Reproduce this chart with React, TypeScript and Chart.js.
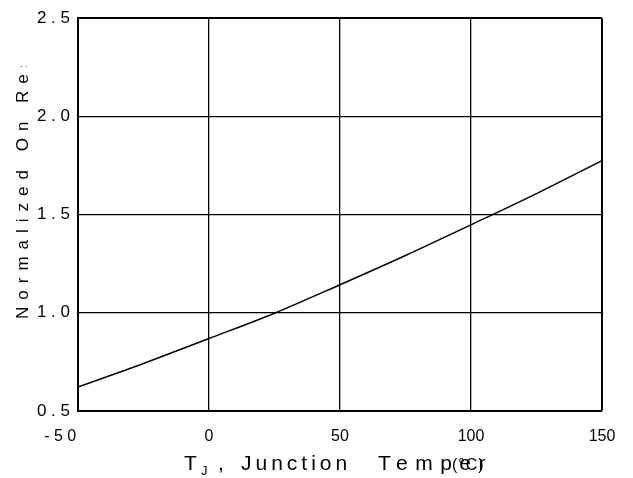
import { useEffect, useRef } from "react";
import { Chart, registerables } from "chart.js";

Chart.register(...registerables);

// Data
const temperatures = [-50, -25, 0, 25, 50, 75, 100, 125, 150];
const onResistance = [0.622, 0.742, 0.869, 0.998, 1.143, 1.292, 1.448, 1.607, 1.775];

const xTickValues = [-50, 0, 50, 100, 150];
const xTickLabels = ["- 5 0        ", "0", "50", "100", "150"];
const yTickValues = [0.5, 1.0, 1.5, 2.0, 2.5];
const yTickLabels = ["0 . 5", "1 . 0", "1 . 5", "2 . 0", "2 . 5"];

const yTitle = "Normalized On Resistance";
const xTitleMain = "T";
const xTitleSub = "J";
const xTitleComma = ",";
const xTitleWord1 = "Junction";
const xTitleWord2 = "Temper";
const xTitleUnit = "(°C)";

const FONT = '"Liberation Sans", Arial, Helvetica, sans-serif';

const titlesPlugin = {
  id: "customTitles",
  afterDraw(chart: any) {
    const ctx = chart.ctx as CanvasRenderingContext2D;
    // Y axis title (rotated, clipped at the top like the reference)
    ctx.save();
    ctx.beginPath();
    ctx.rect(0, 66, 70, 412);
    ctx.clip();
    ctx.translate(28, 319);
    ctx.rotate(-Math.PI / 2);
    ctx.fillStyle = "#000";
    ctx.font = `17px ${FONT}`;
    (ctx as any).letterSpacing = "7px";
    ctx.textAlign = "left";
    ctx.textBaseline = "alphabetic";
    ctx.fillText(yTitle, 0, 0);
    ctx.restore();

    // X axis title
    ctx.save();
    ctx.fillStyle = "#000";
    ctx.textAlign = "left";
    ctx.textBaseline = "alphabetic";
    ctx.font = `21px ${FONT}`;
    (ctx as any).letterSpacing = "0px";
    ctx.fillText(xTitleMain, 184, 470);
    ctx.font = `13px ${FONT}`;
    ctx.fillText(xTitleSub, 201, 475);
    ctx.font = `21px ${FONT}`;
    ctx.fillText(xTitleComma, 218, 470);
    (ctx as any).letterSpacing = "4px";
    ctx.fillText(xTitleWord1, 241, 470);
    (ctx as any).letterSpacing = "7.5px";
    ctx.fillText(xTitleWord2, 378, 470);
    ctx.font = `16px ${FONT}`;
    (ctx as any).letterSpacing = "1px";
    ctx.fillText(xTitleUnit, 452, 470);
    ctx.restore();
  },
};

function labelFor(values: number[], labels: string[], v: number) {
  for (let i = 0; i < values.length; i++) {
    if (Math.abs(values[i] - v) < 1e-6) return labels[i];
  }
  return "";
}

export default function App() {
  const canvasRef = useRef<HTMLCanvasElement | null>(null);

  useEffect(() => {
    if (!canvasRef.current) return;
    const chart = new Chart(canvasRef.current, {
      type: "line",
      data: {
        datasets: [
          {
            data: temperatures.map((t, i) => ({ x: t, y: onResistance[i] })),
            borderColor: "#000",
            borderWidth: 1.5,
            pointRadius: 0,
            fill: false,
            cubicInterpolationMode: "monotone",
          },
        ],
      },
      options: {
        animation: false,
        responsive: false,
        layout: { padding: { top: 14, right: 31, left: 0, bottom: 0 } },
        plugins: {
          legend: { display: false },
          tooltip: { enabled: false },
        },
        scales: {
          x: {
            type: "linear",
            min: -50,
            max: 150,
            afterFit: (scale: any) => {
              scale.height = 67;
            },
            ticks: {
              stepSize: 50,
              autoSkip: false,
              maxRotation: 0,
              padding: 16,
              color: "#000",
              font: { family: FONT, size: 16 },
              callback: (v: any) => labelFor(xTickValues, xTickLabels, Number(v)),
            },
            grid: {
              color: "#000",
              lineWidth: (c: any) => (c.tick && c.tick.value === 150 ? 2 : 1.3),
              drawTicks: false,
            },
            border: { display: true, color: "#000", width: 2 },
          },
          y: {
            type: "linear",
            min: 0.5,
            max: 2.5,
            afterFit: (scale: any) => {
              scale.width = 78;
            },
            ticks: {
              stepSize: 0.5,
              autoSkip: false,
              padding: 8,
              color: "#000",
              font: { family: FONT, size: 17 },
              callback: (v: any) => labelFor(yTickValues, yTickLabels, Number(v)),
            },
            grid: {
              color: "#000",
              lineWidth: (c: any) => (c.tick && c.tick.value === 2.5 ? 2 : 1.3),
              drawTicks: false,
            },
            border: { display: true, color: "#000", width: 2 },
          },
        },
      },
      plugins: [titlesPlugin],
    } as any);
    return () => chart.destroy();
  }, []);

  return (
    <div style={{ position: "fixed", left: 0, top: 0, width: 633, height: 478, background: "#fff" }}>
      <canvas ref={canvasRef} width={633} height={478} style={{ display: "block" }} />
    </div>
  );
}
